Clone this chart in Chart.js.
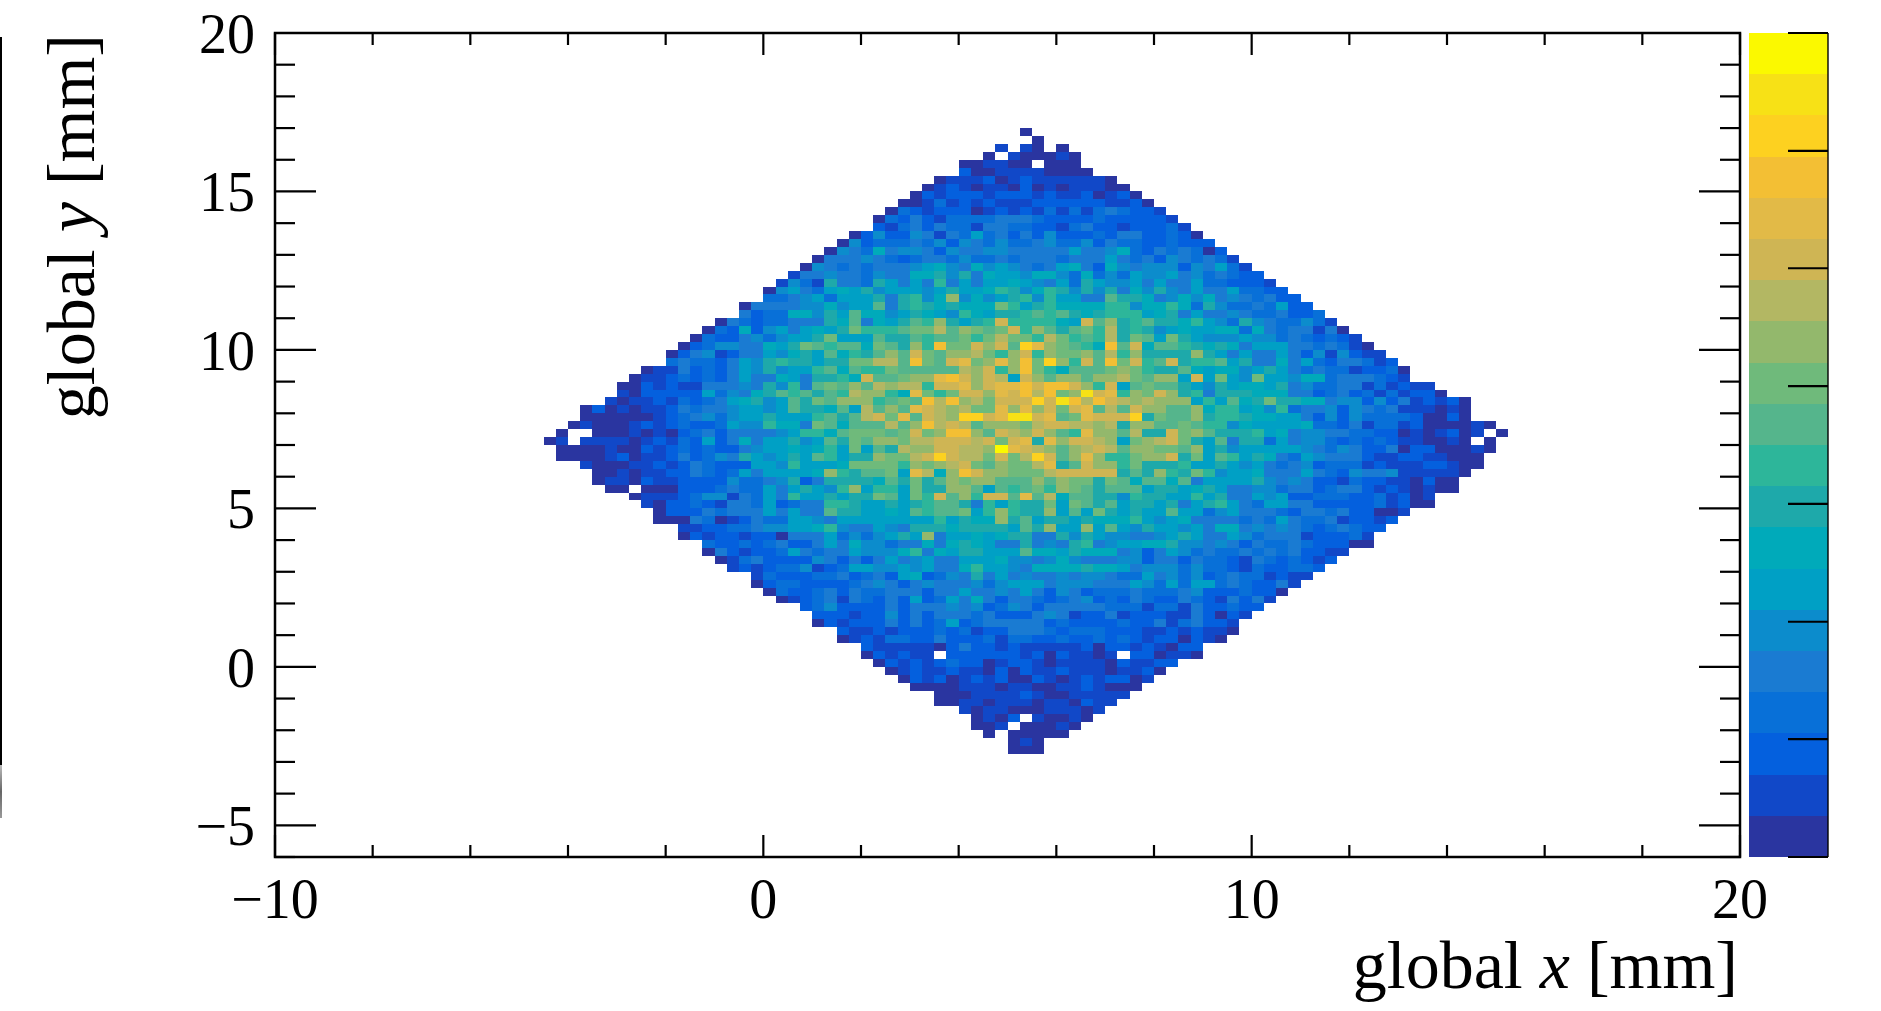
<!DOCTYPE html>
<html>
<head>
<meta charset="utf-8">
<style>
  html, body { margin: 0; padding: 0; background: #fff; }
  canvas { display: block; }
</style>
<script src="https://cdn.jsdelivr.net/npm/chart.js@4"></script>
</head>
<body>
<canvas id="chart" width="1881" height="1011"></canvas>
<script>
// Axis ticks, labels only on the values in xLabels / yLabels.
const xTicks = [-10, -8, -6, -4, -2, 0, 2, 4, 6, 8, 10, 12, 14, 16, 18, 20];
const xLabels = [-10, 0, 10, 20];
const yTicks = [-6, -5, -4, -3, -2, -1, 0, 1, 2, 3, 4, 5, 6, 7, 8, 9, 10, 11, 12, 13, 14, 15, 16, 17, 18, 19, 20];
const yLabels = [-5, 0, 5, 10, 15, 20];

// Palette levels of the colour bar, bottom to top.
const levelColors = [
  '#2a35a0', '#1148c8', '#0460de', '#0870d8', '#1a7bd2',
  '#0c8ccc', '#00a0c5', '#00aaba', '#1ea9aa', '#2db69a',
  '#55b58c', '#6fba7b', '#93b86c', '#b3b763', '#cfb554',
  '#e2ba47', '#f3bf34', '#fdd120', '#f7e116', '#fbf900'
];
const barTicks = [0, 2.86, 5.71, 8.57, 11.43, 14.29, 17.14, 20];

// Histogram bins.
const binSize = 0.25;
const firstBinX = -4.5;
const topBinY = 17;

// First column of each row, rows run from the top of the plot down.
const rowStart = [
  39, 40, 37, 36, 34, 34, 32, 31, 30, 29, 28, 27, 27, 25, 24, 23, 22, 21, 20, 19,
  18, 18, 16, 16, 14, 13, 12, 11, 10, 10, 8, 7, 6, 6, 5, 3, 3, 2, 1, 0,
  1, 1, 3, 4, 4, 5, 7, 8, 9, 9, 11, 11, 13, 13, 14, 15, 17, 17, 18, 19,
  21, 22, 22, 24, 24, 26, 26, 27, 28, 29, 30, 32, 32, 34, 35, 35, 36, 38, 38
];

// One character per bin: palette level in base 20, '.' is an empty bin.
const rowCells = [
  '0',
  '0',
  '1.10.0',
  '0.100010',
  '001100.000',
  '20011110000',
  '011120121111110',
  '01210110201011100',
  '0212221222121120120',
  '001312121112222221120',
  '03212220121213131343221',
  '0324213333444322223222221',
  '21342433144332213422122231',
  '02522541436342425222324422320',
  '0523334352543533453352433223222',
  '054374554254455444446445732434302',
  '04445432344353343444344464342543431',
  '0543434445675475654346742754555254631',
  '144544354477858476657753735365564534322',
  '15318443864649464667654638655646446332221',
  '0564367685666568667985798585847585464463322',
  '334563666848957c57568959664 4a88745757454 3422'.replace(/ /g, ''),
  '04444557566a489878777b96897777995779738 53343622'.replace(/ /g, ''),
  '423377586a77568765976889a9a8789996784644 54334223'.replace(/ /g, ''),
  '04323344487a4768a9c8689e999976eac89a887965385433531',
  '032725646768b999abbdacbabe9ca8ab9d8985676677374344140',
  '03224535668b666a88a9aab9bdbb9db9a9d8ba6b865556553432321',
  '0235544768ba9aa7ba8c9gbbeceahfcba97gae7aa9878746664434310',
  '0245124465786a798acaebaccdb9ce9cbbcad9c8888c864644642515211',
  '343324658988688bbddagbaefbcfcgbhc9eagbe9ae899a68447463244312',
  '011423246585669a7a99baaaaadce9cgb97aaabcb988a767756864343312230',
  '0112323246447648897eaabccfgeced6ecaccaccdbacc6e6b65b665773444321',
  '0021211444548594abacadcdd9eefceffgeggec9e6abaa865867768453344131211',
  '1022222635478a9a8a9dcc97fb9beecfegdgbcief9cbec8948887774423423131220',
  '101121323467856a8baccc9abagdgcdbeeeheigdgedcdccc696a78b8877455252412120',
  '02010112434456656a887a6dacafedcdbbfcfcebefadaeccaac7996759344525434111010',
  '00000012345356686669a8adebfaedchhefiiefabfeeeh8baac8998776642525333320020',
  '01000121232236559774ba7aaadacgdedacccbdeeddcd8ccaaba995766667332413312000010',
  '0..00010102342444456997abbbabebcggcaedceca9fccad88ebca8889674554433220101201.0',
  '01.11110121326247466856a8baccbddeeedebef8fceedc6bcdeb86a48836455323232110010.0',
  '000010021232322456676796b6a8dcceeddcjfedcacdedaccbbac685666665435422402200010',
  '000012011242354865686a9688cbbdeheddbebdheacfc99bcce8b6a968743654442112211000',
  '1000112124322266596667bbbb9cbcdebacbbdf8aecc9b8889668656434523331211122100',
  '0010112243236466667c98aab6fd7cgeccbbbdeeeee8a8c98b9566744464325445111110',
  '011021122225334582488887a8b8acbccaaacacbb8ba7aa7a4666685454221322110200',
  '00.00022234336468659c6996b88cca6a9ab9cba8aaa68867864455344234421210100',
  '01112355143649668688ba6b9eac9eeafad7aa88598866968446562233322312 01'.replace(/ /g, ''),
  '102232144362344998668689aa8496988b6ba8a68868468964366442222231200',
  '02224344464644a886676a9aab69c988c6a6b86866a663564443244342 2001'.replace(/ /g, ''),
  '00043012433665466666666968 77c8a6886877796567444434 36433412212'.replace(/ /g, ''),
  '11223345566795446548887888 86a8c66c6a65866564774545 43234322'.replace(/ /g, ''),
  '02122122044463535686c46676788448586554456864465344 41222 31'.replace(/ /g, ''),
  '3223234224647553447478764484548945667785545424334322200',
  '04212236434465557947688666a776877745246534334343 42211'.replace(/ /g, ''),
  '013422225424246456446667554575444552442433214323212',
  '1212335123665565644796654777787764555353321322332',
  '1322233423426723548464544545543364535234331211',
  '023322223454245444535666455544465363663432241',
  '0322342433444244644546425423334333452223220',
  '01234143242623647424432345232432243214241',
  '23522224244454523542444443331331422322',
  '222122524244434222454122412221142021',
  '02122242423623444442322223224134221',
  '211212223231224443233322211212110',
  '01213322422231332232232321220210',
  '2111110242212111112022121022',
  '021211.22222212021101.220110',
  '0212123220122101111021122',
  '01211211020211211101120',
  '021201212002101212201',
  '0000111011001121000',
  '0001111210011111',
  '001101110110211',
  '101100011101',
  '0102.10010',
  '001.00010',
  '0.00000',
  '010',
  '000'
];

// Turn the rows into {x, y, v} cells for the dataset.
const cells = [];
rowCells.forEach((row, r) => {
  [...row].forEach((ch, i) => {
    if (ch === '.') return;
    cells.push({
      x: firstBinX + (rowStart[r] + i) * binSize,
      y: topBinY - r * binSize,
      v: parseInt(ch, 20)
    });
  });
});

const serif = '"Liberation Serif"';

// Fill the bins and the colour bar through the scales.
const heatmap = {
  id: 'heatmap',
  beforeDatasetsDraw(chart) {
    const { ctx, scales: { x, y, z } } = chart;

    chart.data.datasets[0].data.forEach(cell => {
      const left = Math.round(x.getPixelForValue(cell.x));
      const right = Math.round(x.getPixelForValue(cell.x + binSize));
      const top = Math.round(y.getPixelForValue(cell.y));
      const bottom = Math.round(y.getPixelForValue(cell.y - binSize));
      ctx.fillStyle = levelColors[cell.v];
      ctx.fillRect(left, top, right - left, bottom - top);
    });

    // Colour bar sits right of the frame.
    levelColors.forEach((color, i) => {
      const top = Math.round(z.getPixelForValue(i + 1));
      const bottom = Math.round(z.getPixelForValue(i));
      ctx.fillStyle = color;
      ctx.fillRect(1749, top, 79, bottom - top);
    });
  }
};

// Frame, inward ticks on all four sides, titles.
const frame = {
  id: 'frame',
  afterDraw(chart) {
    const { ctx, chartArea: area, scales: { x, y, z } } = chart;

    ctx.save();
    ctx.strokeStyle = '#000';
    ctx.lineWidth = 2.2;

    xTicks.forEach(val => {
      const px = x.getPixelForValue(val);
      const len = xLabels.includes(val) ? 22 : 12;
      line(ctx, px, area.bottom, px, area.bottom - len);
      line(ctx, px, area.top, px, area.top + len);
    });

    yTicks.forEach(val => {
      const py = y.getPixelForValue(val);
      const len = yLabels.includes(val) ? 41 : 20;
      line(ctx, area.left, py, area.left + len, py);
      line(ctx, area.right, py, area.right - len, py);
    });

    ctx.lineWidth = 2.5;
    ctx.strokeRect(area.left, area.top, area.right - area.left, area.bottom - area.top);

    // Colour bar ticks and right edge.
    ctx.lineWidth = 2.2;
    barTicks.forEach(val => {
      const py = z.getPixelForValue(val);
      line(ctx, 1788, py, 1828, py);
    });
    ctx.lineWidth = 1.4;
    line(ctx, 1828, area.top, 1828, area.bottom);

    // Bit of another panel cut off at the left edge of the picture.
    ctx.fillStyle = '#000';
    ctx.fillRect(0, 37, 2, 728);
    const fade = ctx.createLinearGradient(0, 765, 0, 818);
    fade.addColorStop(0, '#bbb');
    fade.addColorStop(0.5, '#666');
    fade.addColorStop(1, '#999');
    ctx.fillStyle = fade;
    ctx.fillRect(0, 765, 2, 53);

    // Titles have an italic letter, so they are written piece by piece.
    ctx.fillStyle = '#000';
    ctx.textBaseline = 'alphabetic';
    title(ctx, 'x', 1738, 988, 0);
    title(ctx, 'y', 94, 34, -Math.PI / 2);
    ctx.restore();
  }
};

function line(ctx, x0, y0, x1, y1) {
  ctx.beginPath();
  ctx.moveTo(x0, y0);
  ctx.lineTo(x1, y1);
  ctx.stroke();
}

// Title ends at (x, y), rotated by angle.
function title(ctx, letter, x, y, angle) {
  const pieces = [
    ['global ', `68px ${serif}`],
    [letter, `italic 68px ${serif}`],
    [' [mm]', `68px ${serif}`]
  ];
  const widths = pieces.map(piece => {
    ctx.font = piece[1];
    return ctx.measureText(piece[0]).width;
  });
  let pos = -widths.reduce((a, b) => a + b, 0);

  ctx.save();
  ctx.translate(x, y);
  ctx.rotate(angle);
  ctx.textAlign = 'left';
  pieces.forEach((piece, i) => {
    ctx.font = piece[1];
    ctx.fillText(piece[0], pos, 0);
    pos += widths[i];
  });
  ctx.restore();
}

function minus(val) {
  return String(val).replace('-', '\u2212');
}

new Chart(document.getElementById('chart'), {
  type: 'scatter',
  data: {
    datasets: [{ data: cells, pointRadius: 0, pointHoverRadius: 0 }]
  },
  plugins: [heatmap, frame],
  options: {
    responsive: false,
    animation: false,
    events: [],
    layout: { padding: { top: 33, right: 141, left: 0, bottom: 0 } },
    plugins: { legend: { display: false }, tooltip: { enabled: false } },
    scales: {
      x: {
        type: 'linear',
        min: -10,
        max: 20,
        grid: { display: false, drawTicks: false },
        border: { display: false },
        afterBuildTicks: axis => { axis.ticks = xTicks.map(value => ({ value })); },
        afterFit: axis => {
          axis.height = 154;
          axis.paddingLeft = 0;
          axis.paddingRight = 0;
        },
        ticks: {
          autoSkip: false,
          maxRotation: 0,
          padding: 18,
          color: '#000',
          font: { family: serif, size: 56, lineHeight: 1 },
          callback: val => xLabels.includes(val) ? minus(val) : ''
        }
      },
      y: {
        type: 'linear',
        min: -6,
        max: 20,
        grid: { display: false, drawTicks: false },
        border: { display: false },
        afterBuildTicks: axis => { axis.ticks = yTicks.map(value => ({ value })); },
        afterFit: axis => {
          axis.width = 275;
          axis.paddingTop = 0;
          axis.paddingBottom = 0;
        },
        ticks: {
          autoSkip: false,
          padding: 20,
          color: '#000',
          // Empty first line with a small line height moves the label 5px below its tick.
          font: { family: serif, size: 56, lineHeight: '10px' },
          callback: val => yLabels.includes(val) ? ['', minus(val)] : ''
        }
      },
      z: {
        type: 'linear',
        display: false,
        position: 'right',
        min: 0,
        max: 20
      }
    }
  }
});
</script>
</body>
</html>
